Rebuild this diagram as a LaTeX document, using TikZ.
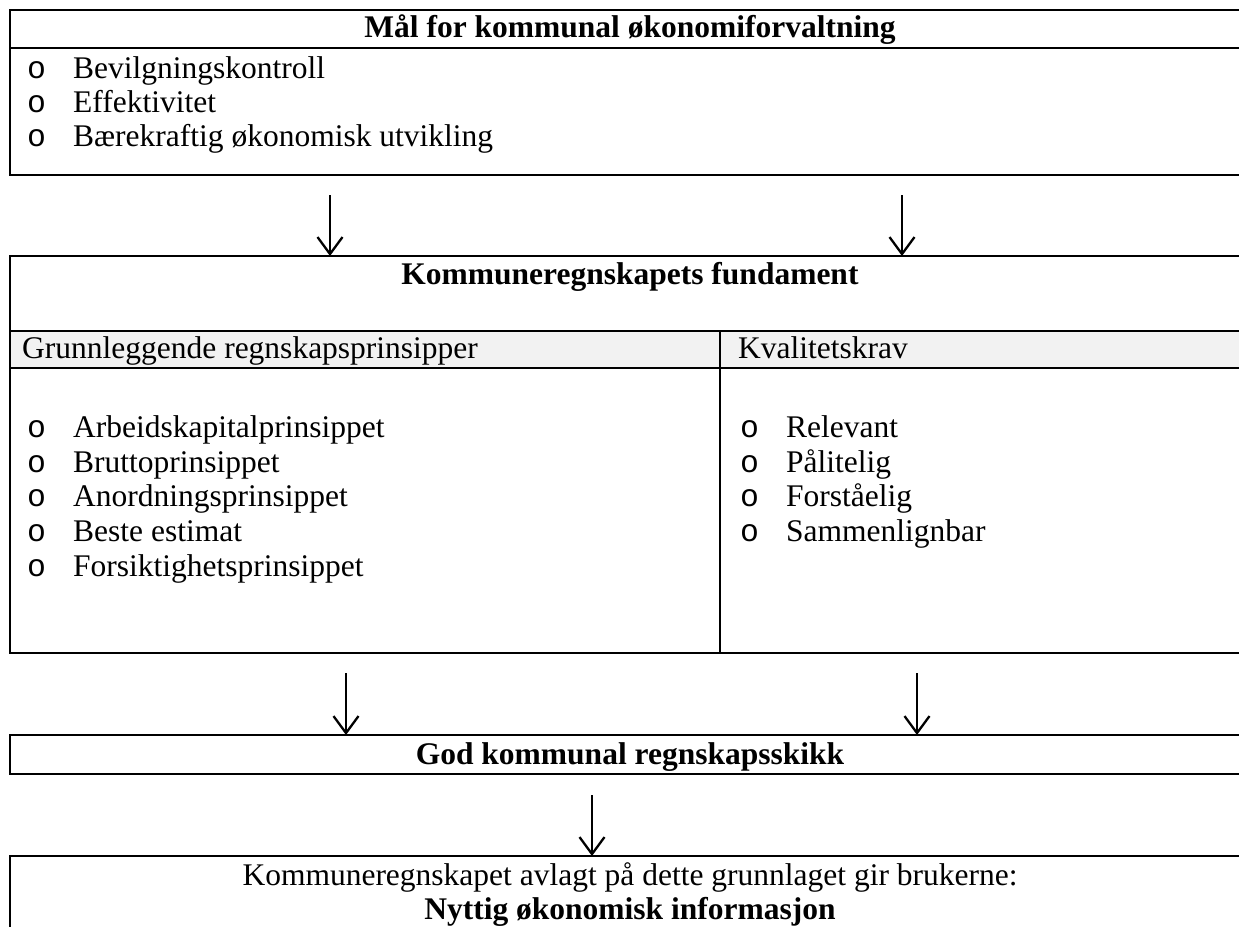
\documentclass[tikz,border=0pt]{standalone}
\usepackage{fontspec}
\setmainfont{Liberation Serif}
\newfontfamily\punktfont{Liberation Mono}
\usetikzlibrary{arrows.meta}
\definecolor{radgraa}{HTML}{F2F2F2}
\newcommand{\punkt}[1]{\makebox[46pt][l]{\punktfont o}#1}

\begin{document}
\begin{tikzpicture}
            [x=1pt,y=-1pt,font=\fontsize{31.5}{35}\selectfont,
             boks/.style={draw,line width=2.8pt,anchor=north west,inner sep=0pt,outer sep=0pt,minimum width=1240pt},
             tekst/.style={anchor=base west,inner sep=0pt},
             tittel/.style={anchor=base,inner sep=0pt,font=\fontsize{31.5}{35}\selectfont\bfseries},
             pil/.style={line width=2.3pt,-{Straight Barb[length=17pt,width=25pt]}}]
            \useasboundingbox (0,0) rectangle (1239,926);
            % boksene
            \node[boks,minimum height=165pt] (mal) at (10,10) {};
            \draw[line width=2.8pt] (10,48) -- (1250,48);
            \node[boks,minimum height=397pt] (fund) at (10,256) {};
            \node[boks,fill=radgraa,minimum height=37pt] (hode) at (10,331) {};
            \draw[line width=2.2pt] (720,331) -- (720,653);
            \node[boks,minimum height=39pt] (skikk) at (10,735) {};
            \node[boks,minimum height=120pt] (info) at (10,856) {};
            %
            \node[tittel] (maltittel) at (630,37) {Mål for kommunal økonomiforvaltning};
            \node[tekst] (mal1) at (27,78) {\punkt{Bevilgningskontroll}};
            \node[tekst] (mal2) at (27,112) {\punkt{Effektivitet}};
            \node[tekst] (mal3) at (27,146) {\punkt{Bærekraftig økonomisk utvikling}};
            %
            \node[tittel] (fundtittel) at (630,284) {Kommuneregnskapets fundament};
            \node[tekst] (prinsipper) at (22,358) {Grunnleggende regnskapsprinsipper};
            \node[tekst] (kvalitet) at (738,358) {Kvalitetskrav};
            \node[tekst] (p1) at (27,437) {\punkt{Arbeidskapitalprinsippet}};
            \node[tekst] (p2) at (27,472) {\punkt{Bruttoprinsippet}};
            \node[tekst] (p3) at (27,506) {\punkt{Anordningsprinsippet}};
            \node[tekst] (p4) at (27,541) {\punkt{Beste estimat}};
            \node[tekst] (p5) at (27,576) {\punkt{Forsiktighetsprinsippet}};
            \node[tekst] (k1) at (740,437) {\punkt{Relevant}};
            \node[tekst] (k2) at (740,472) {\punkt{Pålitelig}};
            \node[tekst] (k3) at (740,506) {\punkt{Forståelig}};
            \node[tekst] (k4) at (740,541) {\punkt{Sammenlignbar}};
            %
            \node[tittel] (skikktittel) at (630,764) {God kommunal regnskapsskikk};
            \node[tekst,anchor=base] (infotekst) at (630,885) {Kommuneregnskapet avlagt på dette grunnlaget gir brukerne:};
            \node[tittel] (infotittel) at (630,919) {Nyttig økonomisk informasjon};
            % pilene
            \coordinate (a1) at (330,195);
            \coordinate (a2) at (902,195);
            \coordinate (a3) at (346,673);
            \coordinate (a4) at (917,673);
            \coordinate (a5) at (592,795);
            \draw[pil] (a1) -- (a1 |- fund.north);
            \draw[pil] (a2) -- (a2 |- fund.north);
            \draw[pil] (a3) -- (a3 |- skikk.north);
            \draw[pil] (a4) -- (a4 |- skikk.north);
            \draw[pil] (a5) -- (a5 |- info.north);
        \end{tikzpicture}
\end{document}
